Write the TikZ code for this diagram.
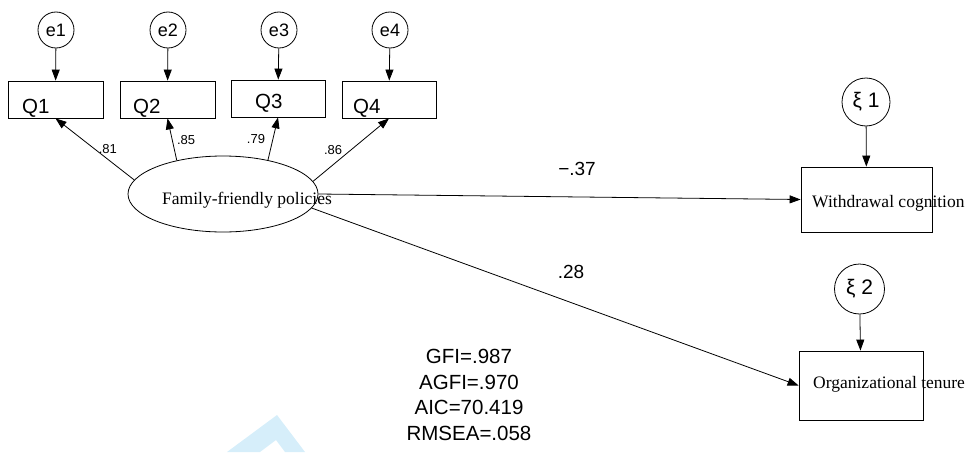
\documentclass[tikz,border=0pt]{standalone}
\usepackage{fontspec}
\setmainfont{Liberation Sans}
\newfontfamily\timesfont{Liberation Serif}
\usetikzlibrary{arrows.meta,shapes.geometric}
\definecolor{wmblue}{RGB}{214,238,250}

\begin{document}
\begin{tikzpicture}[x=1pt,y=-1pt,
    obs/.style={draw, line width=0.8pt, rectangle, inner sep=0pt},
    err/.style={draw, line width=0.8pt, circle, inner sep=0pt, font=\fontsize{18}{18}\selectfont},
    path/.style={line width=0.8pt, -{Triangle[length=11pt,width=8pt]}},
    qlab/.style={anchor=base west, inner sep=0pt, font=\fontsize{20.5}{20.5}\selectfont},
    wt/.style={inner sep=0pt, font=\fontsize{13}{13}\selectfont},
    coef/.style={inner sep=0pt, font=\fontsize{19}{19}\selectfont},
    lbl/.style={anchor=base west, inner sep=0pt, font=\timesfont\fontsize{17.5}{17.5}\selectfont}]
    \useasboundingbox (0,0) rectangle (968,452);
    % watermark left in the figure
    \fill[wmblue] (227,452) -- (277,415) -- (305,452) -- (285,452) -- (276,440) -- (260,452) -- cycle;
    % indicators and their errors
    \node[obs, minimum width=95pt, minimum height=37pt] (q1) at (55.5,99.5) {};
    \node[obs, minimum width=95pt, minimum height=37pt] (q2) at (167.5,99.5) {};
    \node[obs, minimum width=94pt, minimum height=37pt] (q3) at (278,98.5) {};
    \node[obs, minimum width=94pt, minimum height=37pt] (q4) at (389,99.5) {};
    \node[qlab] (q1t) at (22,113) {Q1};
    \node[qlab] (q2t) at (133,113) {Q2};
    \node[qlab] (q3t) at (255,108) {Q3};
    \node[qlab] (q4t) at (353,113) {Q4};
    \node[err, minimum size=36pt] (e1) at (56,30) {e1};
    \node[err, minimum size=36pt] (e2) at (168,30) {e2};
    \node[err, minimum size=36pt] (e3) at (279,30) {e3};
    \node[err, minimum size=36pt] (e4) at (390,30) {e4};
    \draw[path] (e1) -- (q1);
    \draw[path] (e2) -- (q2);
    \draw[path] (e3) -- (q3);
    \draw[path] (e4) -- (q4);
    % latent factor
    \node[draw, ellipse, line width=0.8pt, inner sep=0pt, minimum width=190pt, minimum height=76pt] (fam) at (223,194) {};
    \node[lbl] (famt) at (162,204) {Family-friendly policies};
    \draw[path] (fam.171.8) -- (q1.south) node[wt, pos=0.5, xshift=13pt] (w1) {.81};
    \draw[path] (fam.144) -- (q2.south) node[wt, pos=0.5, xshift=14pt, yshift=-1pt] (w2) {.85};
    \draw[path] (fam.37.5) -- (q3.south) node[wt, pos=0.5, xshift=-17pt] (w3) {.79};
    \draw[path] (fam.8.2) -- (q4.south) node[wt, pos=0.5, xshift=-18pt] (w4) {.86};
    % outcomes
    \node[obs, minimum width=131pt, minimum height=65pt] (wd) at (866.5,199.5) {};
    \node[lbl] (wdt) at (812,207) {Withdrawal cognition};
    \node[obs, minimum width=124pt, minimum height=69pt] (org) at (861,385.5) {};
    \node[lbl] (orgt) at (813,388) {Organizational tenure};
    \node[err, minimum size=48pt, font=\fontsize{21}{21}\selectfont] (z1) at (866,102) {ξ 1};
    \node[err, minimum size=50pt, font=\fontsize{21}{21}\selectfont] (z2) at (859.5,289) {ξ 2};
    \draw[path] (z1) -- (wd);
    \draw[path] (z2) -- (org);
    \draw[path] (fam.east) -- (wd.west);
    \draw[path] (fam.-9.5) -- (org.west);
    \node[coef] (c1) at (577,169) {−.37};
    \node[coef] (c2) at (571,272) {.28};
    % fit indices
    \node[align=center, inner sep=0pt, font=\fontsize{20.5}{25.5}\selectfont] (fit) at (469,395)
        {GFI=.987\\AGFI=.970\\AIC=70.419\\RMSEA=.058};
\end{tikzpicture}
\end{document}
